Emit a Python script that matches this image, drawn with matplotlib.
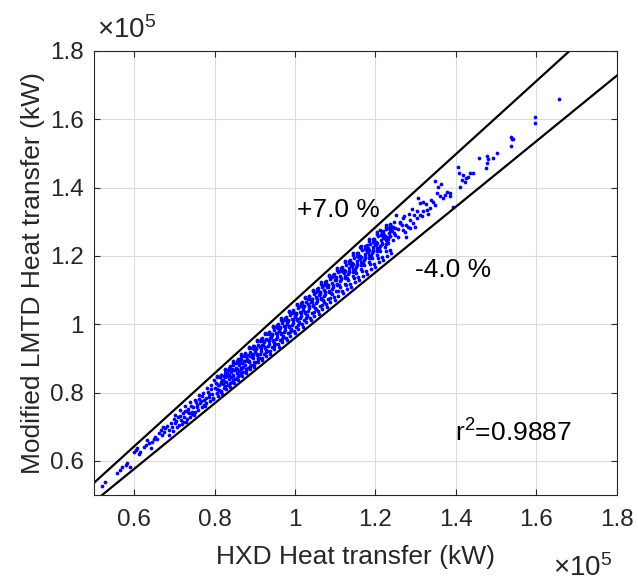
import matplotlib
matplotlib.use("Agg")
import matplotlib.pyplot as plt
from matplotlib.ticker import FuncFormatter

plt.rcParams['font.family'] = ['Liberation Sans', 'DejaVu Sans']
plt.rcParams['mathtext.fontset'] = 'custom'
plt.rcParams['mathtext.rm'] = 'Liberation Sans'
plt.rcParams['mathtext.it'] = 'Liberation Sans'

# heat transfer, units of 1e5 kW (HXD on x, modified LMTD on y)
hxd_low = [0.521, 0.529, 0.558, 0.566, 0.570, 0.579, 0.583, 0.591, 0.599, 0.604, 0.608, 0.612, 0.616,
           0.624, 0.629, 0.633, 0.637, 0.641, 0.645, 0.649, 0.653, 0.657, 0.662, 0.666, 0.669, 0.672,
           0.674, 0.678, 0.682, 0.686, 0.688, 0.691, 0.695, 0.697, 0.700, 0.703, 0.705, 0.707, 0.711,
           0.713, 0.716, 0.718, 0.721, 0.724, 0.726, 0.728, 0.731, 0.733, 0.736, 0.738, 0.741, 0.744,
           0.746, 0.749, 0.752, 0.755, 0.757, 0.760, 0.762, 0.765, 0.768, 0.770, 0.773, 0.775, 0.778,
           0.780, 0.783, 0.786, 0.788, 0.791, 0.794,
           0.702, 0.709, 0.715, 0.722, 0.727, 0.734, 0.739, 0.745, 0.751, 0.756, 0.761, 0.767,
           0.772, 0.777, 0.782, 0.787, 0.792, 0.796]
lmtd_low = [0.526, 0.539, 0.565, 0.573, 0.581, 0.588, 0.595, 0.581, 0.627, 0.632, 0.637, 0.620, 0.627,
            0.641, 0.646, 0.662, 0.651, 0.638, 0.656, 0.663, 0.671, 0.664, 0.681, 0.690, 0.676, 0.700,
            0.685, 0.695, 0.702, 0.690, 0.676, 0.712, 0.700, 0.688, 0.722, 0.710, 0.718, 0.700, 0.705,
            0.732, 0.720, 0.708, 0.740, 0.729, 0.745, 0.715, 0.722, 0.751, 0.739, 0.728, 0.760, 0.744,
            0.757, 0.734, 0.742, 0.771, 0.759, 0.750, 0.781, 0.769, 0.757, 0.790, 0.764, 0.778, 0.783,
            0.770, 0.801, 0.788, 0.776, 0.810, 0.795,
            0.735, 0.728, 0.748, 0.715, 0.760, 0.742, 0.771, 0.736, 0.779, 0.762, 0.792, 0.774,
            0.800, 0.761, 0.812, 0.795, 0.822, 0.781]

hxd_mid = [0.797, 0.801, 0.803, 0.806, 0.799, 0.808, 0.811, 0.813, 0.815, 0.817, 0.812, 0.819,
           0.821, 0.823, 0.825, 0.827, 0.822, 0.829, 0.831, 0.833, 0.835, 0.837, 0.832, 0.839,
           0.841, 0.843, 0.845, 0.847, 0.842, 0.849, 0.851, 0.853, 0.855, 0.857, 0.852, 0.859,
           0.861, 0.863, 0.865, 0.867, 0.862, 0.869, 0.871, 0.873, 0.875, 0.877, 0.872, 0.879,
           0.881, 0.883, 0.885, 0.887, 0.882, 0.889, 0.891, 0.893, 0.895, 0.897, 0.892, 0.899,
           0.901, 0.903, 0.905, 0.907, 0.902, 0.909, 0.911, 0.913, 0.915, 0.917, 0.912, 0.919,
           0.921, 0.923, 0.925, 0.927, 0.922, 0.929, 0.931, 0.933, 0.935, 0.937, 0.932, 0.939,
           0.941, 0.943, 0.945, 0.947, 0.942, 0.949, 0.951, 0.953, 0.955, 0.957, 0.952, 0.959,
           0.961, 0.963, 0.965, 0.967, 0.962, 0.969, 0.971, 0.973, 0.975, 0.977, 0.972, 0.979,
           0.981, 0.983, 0.985, 0.987, 0.982, 0.989, 0.991, 0.993, 0.995, 0.997, 0.992, 0.999,
           1.001, 1.003, 1.005, 1.007, 1.002, 1.009, 1.011, 1.013, 1.015, 1.017, 1.012, 1.019,
           1.021, 1.023, 1.025, 1.027, 1.022, 1.029, 1.031, 1.033, 1.035, 1.037, 1.032, 1.039,
           1.041, 1.043, 1.045, 1.047, 1.042, 1.049, 1.051, 1.053, 1.055, 1.057, 1.052, 1.059,
           1.061, 1.063, 1.065, 1.067, 1.062, 1.069, 1.071, 1.073, 1.075, 1.077, 1.072, 1.079,
           1.081, 1.083, 1.085, 1.087, 1.082, 1.089, 1.091, 1.093, 1.095, 1.097, 1.092, 1.099,
           1.101, 1.103, 1.105, 1.107, 1.102, 1.109, 1.111, 1.113, 1.115, 1.117, 1.112, 1.119,
           1.121, 1.123, 1.125, 1.127, 1.122, 1.129, 1.131, 1.133, 1.135, 1.137, 1.132, 1.139,
           1.141, 1.143, 1.145, 1.147, 1.142, 1.149, 1.151, 1.153, 1.155, 1.157, 1.152, 1.159,
           1.161, 1.163, 1.165, 1.167, 1.162, 1.169, 1.171, 1.173, 1.175, 1.177, 1.172, 1.179,
           1.181, 1.183, 1.185, 1.187, 1.182, 1.189, 1.191, 1.193, 1.195, 1.197, 1.192, 1.199,
           1.201, 1.203, 1.205, 1.207, 1.202, 1.209, 1.211, 1.213, 1.215, 1.217, 1.212, 1.219,
           1.221, 1.223, 1.225, 1.227, 1.222, 1.229, 1.231, 1.233, 1.235, 1.237, 1.232, 1.239,
           1.241, 1.243, 1.245, 1.247, 1.242, 1.249]
lmtd_mid = [0.784, 0.812, 0.827, 0.800, 0.838, 0.821, 0.806, 0.845, 0.829, 0.802, 0.822, 0.838,
            0.836, 0.812, 0.858, 0.846, 0.824, 0.832, 0.848, 0.822, 0.866, 0.840, 0.857, 0.828,
            0.860, 0.832, 0.849, 0.881, 0.844, 0.867, 0.841, 0.872, 0.858, 0.890, 0.866, 0.848,
            0.880, 0.851, 0.870, 0.897, 0.864, 0.886, 0.860, 0.893, 0.881, 0.906, 0.876, 0.868,
            0.898, 0.872, 0.888, 0.919, 0.893, 0.907, 0.880, 0.914, 0.900, 0.928, 0.905, 0.889,
            0.918, 0.890, 0.909, 0.940, 0.926, 0.902, 0.901, 0.932, 0.921, 0.951, 0.914, 0.938,
            0.940, 0.912, 0.930, 0.958, 0.947, 0.923, 0.921, 0.954, 0.941, 0.970, 0.935, 0.960,
            0.962, 0.933, 0.951, 0.983, 0.968, 0.944, 0.941, 0.975, 0.962, 0.990, 0.957, 0.980,
            0.983, 0.953, 0.972, 1.003, 0.990, 0.966, 0.962, 0.996, 0.983, 1.012, 0.978, 1.001,
            1.003, 0.973, 0.994, 1.026, 1.009, 0.986, 0.983, 1.016, 1.004, 1.034, 0.998, 1.022,
            1.024, 0.993, 1.014, 1.047, 1.031, 1.005, 1.004, 1.037, 1.025, 1.056, 1.019, 1.043,
            1.046, 1.013, 1.035, 1.066, 1.052, 1.026, 1.025, 1.058, 1.046, 1.075, 1.040, 1.064,
            1.066, 1.033, 1.056, 1.088, 1.074, 1.048, 1.044, 1.080, 1.068, 1.098, 1.061, 1.086,
            1.088, 1.054, 1.077, 1.110, 1.095, 1.070, 1.066, 1.101, 1.089, 1.118, 1.083, 1.108,
            1.109, 1.075, 1.098, 1.131, 1.116, 1.092, 1.087, 1.121, 1.110, 1.141, 1.104, 1.130,
            1.130, 1.097, 1.119, 1.152, 1.137, 1.114, 1.108, 1.142, 1.131, 1.160, 1.125, 1.152,
            1.150, 1.118, 1.140, 1.173, 1.158, 1.136, 1.130, 1.164, 1.152, 1.183, 1.147, 1.172,
            1.170, 1.140, 1.162, 1.195, 1.180, 1.158, 1.151, 1.185, 1.173, 1.204, 1.168, 1.194,
            1.190, 1.161, 1.183, 1.216, 1.200, 1.179, 1.173, 1.206, 1.193, 1.225, 1.188, 1.214,
            1.210, 1.183, 1.203, 1.236, 1.222, 1.200, 1.193, 1.226, 1.214, 1.246, 1.209, 1.235,
            1.232, 1.203, 1.224, 1.258, 1.242, 1.222, 1.215, 1.246, 1.236, 1.268, 1.228, 1.256,
            1.252, 1.225, 1.246, 1.280, 1.262, 1.243, 1.237, 1.268, 1.258, 1.290, 1.250, 1.278,
            1.273, 1.247, 1.267, 1.300, 1.285, 1.262]

hxd_mid2 = [0.805, 0.805, 0.807, 0.803, 0.815, 0.815, 0.817, 0.813, 0.825, 0.825, 0.827, 0.823,
            0.835, 0.835, 0.837, 0.833, 0.845, 0.845, 0.847, 0.843, 0.855, 0.855, 0.857, 0.853,
            0.865, 0.865, 0.867, 0.863, 0.875, 0.875, 0.877, 0.873, 0.885, 0.885, 0.887, 0.883,
            0.895, 0.895, 0.897, 0.893, 0.905, 0.905, 0.907, 0.903, 0.915, 0.915, 0.917, 0.913,
            0.925, 0.925, 0.927, 0.923, 0.935, 0.935, 0.937, 0.933, 0.945, 0.945, 0.947, 0.943,
            0.955, 0.955, 0.957, 0.953, 0.965, 0.965, 0.967, 0.963, 0.975, 0.975, 0.977, 0.973,
            0.985, 0.985, 0.987, 0.983, 0.995, 0.995, 0.997, 0.993, 1.005, 1.005, 1.007, 1.003,
            1.015, 1.015, 1.017, 1.013, 1.025, 1.025, 1.027, 1.023, 1.035, 1.035, 1.037, 1.033,
            1.045, 1.045, 1.047, 1.043, 1.055, 1.055, 1.057, 1.053, 1.065, 1.065, 1.067, 1.063,
            1.075, 1.075, 1.077, 1.073, 1.085, 1.085, 1.087, 1.083, 1.095, 1.095, 1.097, 1.093,
            1.105, 1.105, 1.107, 1.103, 1.115, 1.115, 1.117, 1.113, 1.125, 1.125, 1.127, 1.123,
            1.135, 1.135, 1.137, 1.133, 1.145, 1.145, 1.147, 1.143, 1.155, 1.155, 1.157, 1.153,
            1.165, 1.165, 1.167, 1.163, 1.175, 1.175, 1.177, 1.173, 1.185, 1.185, 1.187, 1.183,
            1.195, 1.195, 1.197, 1.193, 1.205, 1.205, 1.207, 1.203, 1.215, 1.215, 1.217, 1.213,
            1.225, 1.225, 1.227, 1.223, 1.235, 1.235, 1.237, 1.233]
lmtd_mid2 = [0.848, 0.811, 0.799, 0.827, 0.852, 0.830, 0.803, 0.846, 0.870, 0.832, 0.818, 0.847,
             0.873, 0.850, 0.822, 0.867, 0.891, 0.852, 0.838, 0.868, 0.893, 0.870, 0.842, 0.887,
             0.912, 0.872, 0.858, 0.888, 0.914, 0.891, 0.862, 0.908, 0.933, 0.892, 0.878, 0.909,
             0.935, 0.911, 0.882, 0.929, 0.954, 0.912, 0.898, 0.929, 0.956, 0.931, 0.901, 0.950,
             0.975, 0.932, 0.918, 0.950, 0.977, 0.952, 0.921, 0.971, 0.996, 0.953, 0.937, 0.971,
             0.998, 0.972, 0.941, 0.991, 1.017, 0.973, 0.957, 0.991, 1.019, 0.993, 0.960, 1.012,
             1.038, 0.993, 0.977, 1.012, 1.040, 1.013, 0.980, 1.033, 1.059, 1.013, 0.997, 1.032,
             1.061, 1.033, 1.000, 1.054, 1.080, 1.033, 1.017, 1.053, 1.082, 1.054, 1.019, 1.074,
             1.101, 1.053, 1.037, 1.073, 1.102, 1.074, 1.039, 1.095, 1.123, 1.074, 1.056, 1.094,
             1.123, 1.094, 1.059, 1.116, 1.144, 1.094, 1.076, 1.114, 1.144, 1.115, 1.079, 1.137,
             1.165, 1.114, 1.096, 1.135, 1.165, 1.135, 1.098, 1.157, 1.186, 1.134, 1.116, 1.155,
             1.186, 1.155, 1.118, 1.178, 1.207, 1.154, 1.136, 1.176, 1.207, 1.176, 1.138, 1.199,
             1.228, 1.174, 1.156, 1.196, 1.228, 1.196, 1.157, 1.220, 1.249, 1.194, 1.176, 1.217,
             1.249, 1.217, 1.177, 1.240, 1.270, 1.215, 1.195, 1.238, 1.270, 1.237, 1.197, 1.261,
             1.291, 1.235, 1.215, 1.258, 1.291, 1.257, 1.216, 1.282]

hxd_edge = [0.805, 0.817, 0.825, 0.838, 0.845, 0.858, 0.865, 0.876, 0.885, 0.897, 0.905, 0.918,
            0.925, 0.936, 0.945, 0.958, 0.965, 0.977, 0.985, 0.996, 1.005, 1.018, 1.025, 1.036,
            1.045, 1.058, 1.065, 1.077, 1.085, 1.096, 1.105, 1.118, 1.125, 1.137, 1.145, 1.156,
            1.165, 1.178, 1.185, 1.196, 1.205, 1.218, 1.225, 1.237,
            0.808, 0.819, 0.828, 0.839, 0.848, 0.859, 0.868, 0.879, 0.888, 0.899, 0.908, 0.919,
            0.928, 0.939, 0.948, 0.959, 0.968, 0.979, 0.988, 0.999, 1.008, 1.019, 1.028, 1.039,
            1.048, 1.059, 1.068, 1.079, 1.088, 1.099, 1.108, 1.119, 1.128, 1.139, 1.148, 1.159,
            1.168, 1.179, 1.188, 1.199, 1.208, 1.219, 1.228, 1.239]
lmtd_edge = [0.845, 0.852, 0.866, 0.879, 0.886, 0.897, 0.908, 0.916, 0.929, 0.937, 0.951, 0.959,
             0.971, 0.978, 0.993, 1.001, 1.013, 1.021, 1.035, 1.041, 1.055, 1.064, 1.077, 1.083,
             1.097, 1.105, 1.119, 1.125, 1.140, 1.146, 1.160, 1.168, 1.181, 1.188, 1.203, 1.208,
             1.223, 1.231, 1.245, 1.250, 1.265, 1.273, 1.286, 1.293,
             0.790, 0.797, 0.810, 0.817, 0.829, 0.836, 0.849, 0.856, 0.868, 0.875, 0.888, 0.895,
             0.907, 0.914, 0.927, 0.934, 0.947, 0.953, 0.966, 0.973, 0.986, 0.992, 1.005, 1.012,
             1.025, 1.031, 1.044, 1.051, 1.064, 1.070, 1.084, 1.090, 1.103, 1.109, 1.123, 1.129,
             1.142, 1.148, 1.162, 1.168, 1.181, 1.187, 1.201, 1.207]

hxd_high = [1.252, 1.269, 1.261, 1.285, 1.294, 1.302, 1.310, 1.319, 1.327, 1.335, 1.277, 1.236,
            1.244, 1.219, 1.228, 1.269, 1.285, 1.298, 1.211, 1.265, 1.273, 1.256, 1.277, 1.281,
            1.248, 1.178, 1.161, 1.186, 1.302, 1.315, 1.325, 1.330, 1.338, 1.296, 1.290, 1.283,
            1.271, 1.262, 1.257,
            1.348, 1.364, 1.356, 1.377, 1.385, 1.352, 1.360, 1.368, 1.343, 1.348, 1.393, 1.306,
            1.319, 1.310, 1.385, 1.372, 1.406, 1.408, 1.418, 1.414, 1.426, 1.435, 1.443, 1.422,
            1.410, 1.430, 1.476, 1.480, 1.491, 1.501, 1.458, 1.478, 1.474, 1.537, 1.539, 1.541,
            1.536, 1.597, 1.597, 1.655]
lmtd_high = [1.320, 1.310, 1.300, 1.305, 1.296, 1.310, 1.320, 1.330, 1.335, 1.340, 1.291, 1.276,
             1.286, 1.266, 1.256, 1.276, 1.281, 1.286, 1.276, 1.291, 1.271, 1.256, 1.256, 1.286,
             1.281, 1.217, 1.227, 1.193, 1.330, 1.318, 1.352, 1.322, 1.365, 1.320, 1.338, 1.322,
             1.318, 1.295, 1.279,
             1.420, 1.411, 1.403, 1.388, 1.383, 1.383, 1.374, 1.369, 1.359, 1.349, 1.344, 1.369,
             1.359, 1.354, 1.374, 1.378, 1.461, 1.442, 1.437, 1.422, 1.427, 1.442, 1.442, 1.417,
             1.403, 1.432, 1.493, 1.484, 1.486, 1.501, 1.488, 1.473, 1.458, 1.549, 1.543, 1.541,
             1.523, 1.606, 1.590, 1.660]

band_pct = [7.0, -4.0]
r_squared = 0.9887
ticks = [0.6, 0.8, 1.0, 1.2, 1.4, 1.6, 1.8]

fig = plt.figure(figsize=(6.38, 5.82), dpi=100)
ax = fig.add_axes([0.147, 0.1495, 0.82, 0.763])

dot = dict(linestyle='none', marker='o', color='#0000ff', markersize=2.7, markeredgewidth=0)
series = [(hxd_low, lmtd_low), (hxd_mid, lmtd_mid), (hxd_mid2, lmtd_mid2),
          (hxd_edge, lmtd_edge), (hxd_high, lmtd_high)]
for xs, ys in series:
    ax.plot(xs, ys, **dot)

line_x = [0.5, 1.8]
for p in band_pct:
    ax.plot(line_x, [v * (1 + p / 100) for v in line_x], color='black', lw=1.6)

ax.set_xlim(0.5, 1.8)
ax.set_ylim(0.5, 1.8)
ax.set_xticks(ticks)
ax.set_yticks(ticks)
fmt = FuncFormatter(lambda v, pos: '%g' % round(v, 2))
ax.xaxis.set_major_formatter(fmt)
ax.yaxis.set_major_formatter(fmt)
ax.grid(True, color='#dcdcdc', lw=0.8)
ax.set_axisbelow(True)
ax.tick_params(direction='in', top=True, right=True, length=4, width=0.8,
               color='#262626', labelsize=17.5, labelcolor='#262626')
ax.tick_params(axis='x', pad=10)
ax.tick_params(axis='y', pad=7)
for s in ax.spines.values():
    s.set_color('#262626')
    s.set_linewidth(0.8)

ax.set_xlabel('HXD Heat transfer (kW)', fontsize=19, color='#262626', labelpad=10)
ax.set_ylabel('Modified LMTD Heat transfer (kW)', fontsize=19, color='#262626', labelpad=4)

ax.text(1.005, 1.335, '+%.1f %%' % band_pct[0], fontsize=19, va='center', ha='left')
ax.text(1.298, 1.159, '%.1f %%' % band_pct[1], fontsize=19, va='center', ha='left')
ax.text(1.397, 0.682, 'r$^{2}$=%.4f' % r_squared, fontsize=19, va='center', ha='left')

fig.text(0.152, 0.925, r'$\times$10$^{5}$', fontsize=20, color='#262626', ha='left', va='bottom')
fig.text(0.866, 0.0, r'$\times$10$^{5}$', fontsize=20, color='#262626', ha='left', va='bottom')

fig.savefig('out.png', dpi=100)
